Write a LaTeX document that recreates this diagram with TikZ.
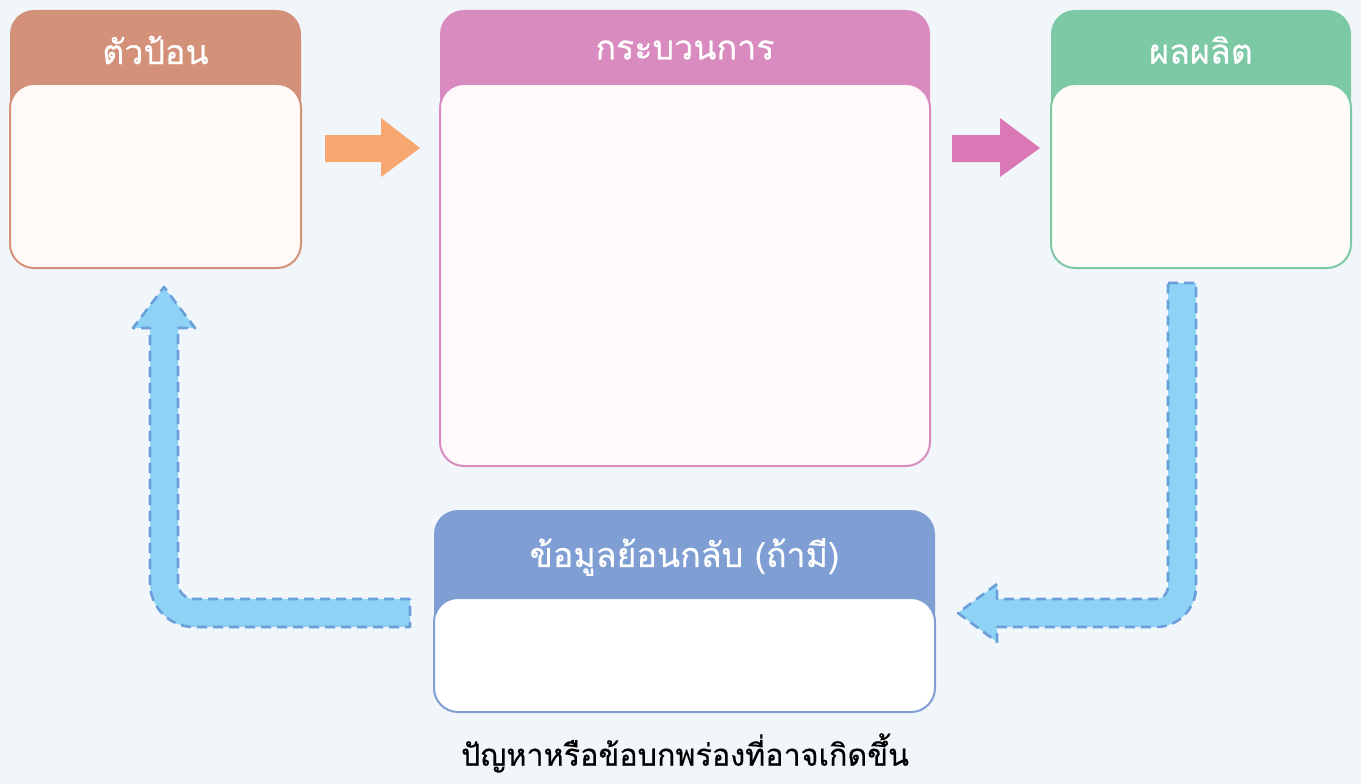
\documentclass[tikz,border=0pt]{standalone}
\usepackage{fontspec}
\newfontfamily\thaifont[Script=Thai,FakeBold=0.4]{Loma}
\definecolor{bg}{HTML}{F1F6FA}
\definecolor{cIn}{HTML}{D4917A}
\definecolor{cPr}{HTML}{D98BBF}
\definecolor{cOut}{HTML}{7DC9A5}
\definecolor{cFb}{HTML}{7F9ED3}
\definecolor{wIn}{HTML}{FFFAF8}
\definecolor{wPr}{HTML}{FFF9FC}
\definecolor{wOut}{HTML}{FFFBF9}
\definecolor{wFb}{HTML}{FFFFFF}
\definecolor{arOr}{HTML}{F7A871}
\definecolor{arPk}{HTML}{D978B5}
\definecolor{blFill}{HTML}{8ED2F5}
\definecolor{blLine}{HTML}{6A9FDB}
\tikzset{
  headtext/.style={text=white, font=\thaifont\fontsize{34}{38}\selectfont, inner sep=0pt},
  captext/.style={text=black, font=\thaifont\fontsize{30.5}{35}\selectfont, inner sep=0pt},
  fbarrow/.style={fill=blFill, draw=blLine, line width=2.6pt, dash pattern=on 10pt off 6pt, line join=round},
}
\newcommand\flowbox[9]{%
  \fill[#7, rounded corners=24pt] (#2,#3) rectangle (#4,#5);
  \draw[#7, line width=2pt, fill=#8, rounded corners=24pt] (#2,#6) rectangle (#4,#5);
  \node[headtext] (#1) at ({(#2+#4)/2},{(#3+#6)/2+3}) {#9};
}
\begin{document}
\begin{tikzpicture}[x=1pt,y=-1pt]
\fill[bg] (0,0) rectangle (1361,784);
\useasboundingbox (0,0) rectangle (1361,784);

\flowbox{input}{10}{10}{301}{268}{84}{cIn}{wIn}{ตัวป้อน}
\flowbox{process}{440}{10}{930}{466}{84}{cPr}{wPr}{กระบวนการ}
\flowbox{output}{1051}{10}{1351}{268}{84}{cOut}{wOut}{ผลผลิต}
\flowbox{feedback}{434}{510}{935}{712}{598}{cFb}{wFb}{ข้อมูลย้อนกลับ (ถ้ามี)}

\node[captext] (caption) at (685,753) {ปัญหาหรือข้อบกพร่องที่อาจเกิดขึ้น};

% block arrows
\fill[arOr] (325,135) -- (381,135) -- (381,118) -- (420,148) -- (381,177) -- (381,162) -- (325,162) -- cycle;
\fill[arPk] (952,135) -- (1000,135) -- (1000,118) -- (1040,148) -- (1000,177) -- (1000,162) -- (952,162) -- cycle;

% feedback arrows
\draw[fbarrow] (1168,283) -- (1196,283) -- (1196,587) arc[start angle=0,end angle=90,radius=40]
  -- (997,627) -- (997,642) -- (958,613) -- (997,584) -- (997,599) -- (1156,599)
  arc[start angle=90,end angle=0,radius=12] -- cycle;
\draw[fbarrow] (410,599) -- (194,599) arc[start angle=90,end angle=180,radius=16]
  -- (178,328) -- (195,328) -- (164,287) -- (133,328) -- (150,328) -- (150,583)
  arc[start angle=180,end angle=90,radius=44] -- (410,627) -- cycle;
\end{tikzpicture}
\end{document}
